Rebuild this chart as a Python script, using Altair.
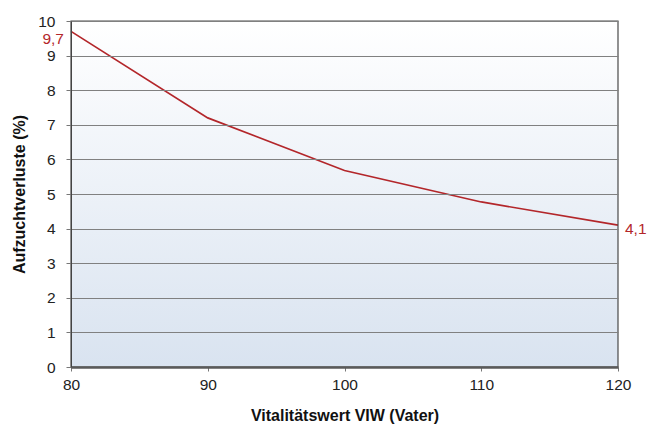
import altair as alt
import pandas as pd

x_vals = [80, 90, 100, 110, 120]
y_vals = [9.7, 7.2, 5.68, 4.77, 4.1]

end_x = [80, 120]
end_y = [9.7, 4.1]
end_text = ["9,7", "4,1"]

x_ticks = [80, 90, 100, 110, 120]
y_ticks = [0, 1, 2, 3, 4, 5, 6, 7, 8, 9, 10]

df = pd.DataFrame({"x": x_vals, "y": y_vals})
df_lab = pd.DataFrame({"x": end_x, "y": end_y, "t": end_text})

FONT = "Liberation Sans"
RED = "#b3262a"
W, H = 547, 346

xs = alt.Scale(domain=[80, 120], nice=False, zero=False)
ys = alt.Scale(domain=[0, 10], nice=False)

X_AX = alt.Axis(title="Vitalitätswert VIW (Vater)", values=x_ticks,
                grid=False, domainColor="#5a5a5a", domainWidth=2.5,
                tickColor="#777", tickSize=4, labelPadding=6,
                labelFontSize=15.5, labelColor="#222", labelFont=FONT,
                titleFont=FONT, titleFontSize=16, titleFontWeight="bold",
                titleColor="#111", titlePadding=15, labelFlush=False,
                labelOverlap=False, zindex=1)
Y_AX = alt.Axis(title="Aufzuchtverluste (%)", values=y_ticks,
                grid=True, gridColor="#808080", gridWidth=1,
                domainColor="#444", tickColor="#777", tickSize=5,
                labelPadding=11, labelFontSize=15.5, labelColor="#222",
                labelFont=FONT, titleFont=FONT, titleFontSize=16,
                titleFontWeight="bold", titleColor="#111", titlePadding=10,
                labelOverlap=False, zindex=1)

def X():
    return alt.X("x:Q", scale=xs, axis=X_AX)

def Y():
    return alt.Y("y:Q", scale=ys, axis=Y_AX)

one = pd.DataFrame({"a": [0]})

bg = alt.Chart(one).mark_rect(
    color=alt.Gradient(gradient="linear", x1=0, y1=0, x2=0, y2=1,
                       stops=[alt.GradientStop(offset=0, color="#ffffff"),
                              alt.GradientStop(offset=1, color="#d9e3f0")])
).encode(x=alt.value(0), x2=alt.value(W), y=alt.value(0), y2=alt.value(H))

frame = alt.Chart(one).mark_rect(
    filled=False, stroke="#4a4a4a", strokeWidth=1.2, fill=None
).encode(x=alt.value(0), x2=alt.value(W), y=alt.value(0), y2=alt.value(H))

line = alt.Chart(df).mark_line(color=RED, strokeWidth=1.7).encode(x=X(), y=Y())

lab_left = alt.Chart(df_lab[df_lab.x == 80]).mark_text(
    color=RED, fontSize=15.5, font=FONT, align="right", dx=-7, dy=8
).encode(x=X(), y=Y(), text="t:N")

lab_right = alt.Chart(df_lab[df_lab.x == 120]).mark_text(
    color=RED, fontSize=15.5, font=FONT, align="left", dx=7, dy=4
).encode(x=X(), y=Y(), text="t:N")

chart = alt.layer(bg, line, frame, lab_left, lab_right).properties(
    width=W, height=H,
    autosize="none",
    padding={"left": 71, "top": 21, "right": 30, "bottom": 61},
    background="white",
).configure_view(
    stroke=None,
)

chart.save("out.html", embed_options={"renderer": "svg", "actions": False})
